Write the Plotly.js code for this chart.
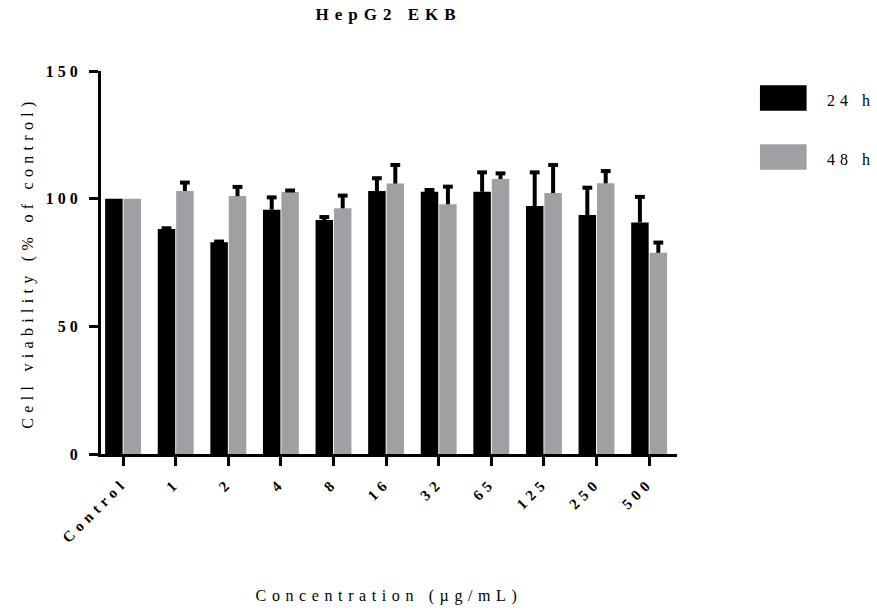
<!DOCTYPE html>
<html>
<head>
<meta charset="utf-8">
<script src="https://cdn.plot.ly/plotly-3.0.1.min.js"></script>
<style>
html, body { margin: 0; padding: 0; background: #fff; }
#chart { width: 877px; height: 615px; }
.main-svg text.gtitle { letter-spacing: 6px; }
.main-svg text.xtitle { letter-spacing: 5.6px; }
.main-svg text.ytitle { letter-spacing: 5.3px; }
.main-svg .xtick text { letter-spacing: 5px; }
.main-svg .ytick text { letter-spacing: 4px; }
.main-svg .annotation-text { letter-spacing: 5px; }
</style>
</head>
<body>
<div id="chart"></div>
<script>
const categories = ["Control", "1", "2", "4", "8", "16", "32", "65", "125", "250", "500"];
const mean24 = [100, 88.1, 82.9, 95.7, 91.6, 103.0, 102.7, 102.7, 97.1, 93.6, 90.7];
const sd24   = [null, 0.3, 0.3, 4.8, 1.2, 5.0, 0.7, 7.6, 13.2, 10.7, 10.0];
const mean48 = [100, 103.0, 101.0, 102.6, 96.2, 105.9, 97.8, 107.7, 102.2, 106.0, 78.8];
const sd48   = [null, 3.3, 3.6, 0.6, 5.0, 7.3, 6.9, 2.2, 11.0, 4.8, 4.0];
const seriesNames = ["24 h", "48 h"];
const seriesColors = ["#000000", "#A0A0A4"];
const yTicks = [0, 50, 100, 150];

const serif = "Liberation Serif, Times New Roman, serif";
const zeros = categories.map(() => 0);
const capTop = (m, s) => m.map((v, i) => (s[i] == null ? null : v + s[i]));

function stem(sd) {
  return { type: "data", symmetric: false, array: sd, arrayminus: zeros,
           color: "#000000", thickness: 4, width: 0, visible: true };
}
function caps(name, mean, sd, group) {
  return { type: "scatter", mode: "markers", name: name + " SD", x: categories, y: capTop(mean, sd),
           offsetgroup: group, alignmentgroup: "all", showlegend: false, cliponaxis: false,
           marker: { symbol: "line-ew", size: 7, color: "#000", line: { color: "#000", width: 4 } } };
}

const traces = [
  { type: "bar", name: seriesNames[0], x: categories, y: mean24, offsetgroup: "a", alignmentgroup: "all",
    marker: { color: seriesColors[0] }, error_y: stem(sd24), showlegend: false },
  { type: "bar", name: seriesNames[1], x: categories, y: mean48, offsetgroup: "b", alignmentgroup: "all",
    marker: { color: seriesColors[1] }, error_y: stem(sd48), showlegend: false },
  caps(seriesNames[0], mean24, sd24, "a"),
  caps(seriesNames[1], mean48, sd48, "b")
];

const layout = {
  width: 877, height: 615,
  margin: { l: 101, r: 200, t: 71, b: 161, pad: 0 },
  paper_bgcolor: "#ffffff", plot_bgcolor: "#ffffff",
  barmode: "group", bargap: 0.3, bargroupgap: 0.05,
  scattermode: "group", scattergap: 0.3,
  title: { text: "HepG2 EKB", x: 0.443, xanchor: "center", y: 0.977, yanchor: "middle",
           font: { family: serif, size: 17, color: "#000", weight: "bold" } },
  xaxis: {
    type: "category", range: [-0.42, 10.53], showgrid: false, zeroline: false,
    showline: true, linecolor: "#000", linewidth: 3,
    ticks: "outside", ticklen: 9, tickwidth: 3, tickcolor: "#000", ticklabelstandoff: 2,
    tickangle: -45, tickfont: { family: serif, size: 15, color: "#000", weight: "bold" },
    title: { text: "Concentration (µg/mL)", standoff: 70,
             font: { family: serif, size: 16, color: "#000" } },
    fixedrange: true
  },
  yaxis: {
    range: [0, 150], tickvals: yTicks, ticktext: yTicks.map(String),
    showgrid: false, zeroline: false,
    showline: true, linecolor: "#000", linewidth: 3,
    ticks: "outside", ticklen: 9, tickwidth: 3, tickcolor: "#000", ticklabelstandoff: 4,
    tickfont: { family: serif, size: 16, color: "#000", weight: "bold" },
    title: { text: "Cell viability (% of control)", standoff: 21,
             font: { family: serif, size: 16, color: "#000" } },
    fixedrange: true
  },
  showlegend: false,
  shapes: [
    { type: "rect", xref: "paper", yref: "paper", x0: 1.144, x1: 1.225, y0: 0.896, y1: 0.963,
      fillcolor: seriesColors[0], line: { width: 0 } },
    { type: "rect", xref: "paper", yref: "paper", x0: 1.144, x1: 1.225, y0: 0.742, y1: 0.809,
      fillcolor: seriesColors[1], line: { width: 0 } }
  ],
  annotations: [
    { xref: "paper", yref: "paper", x: 1.275, y: 0.922, xanchor: "left", yanchor: "middle",
      text: seriesNames[0], showarrow: false, font: { family: serif, size: 16, color: "#000" } },
    { xref: "paper", yref: "paper", x: 1.275, y: 0.768, xanchor: "left", yanchor: "middle",
      text: seriesNames[1], showarrow: false, font: { family: serif, size: 16, color: "#000" } }
  ]
};

Plotly.newPlot("chart", traces, layout, { displayModeBar: false, staticPlot: true });
</script>
</body>
</html>
